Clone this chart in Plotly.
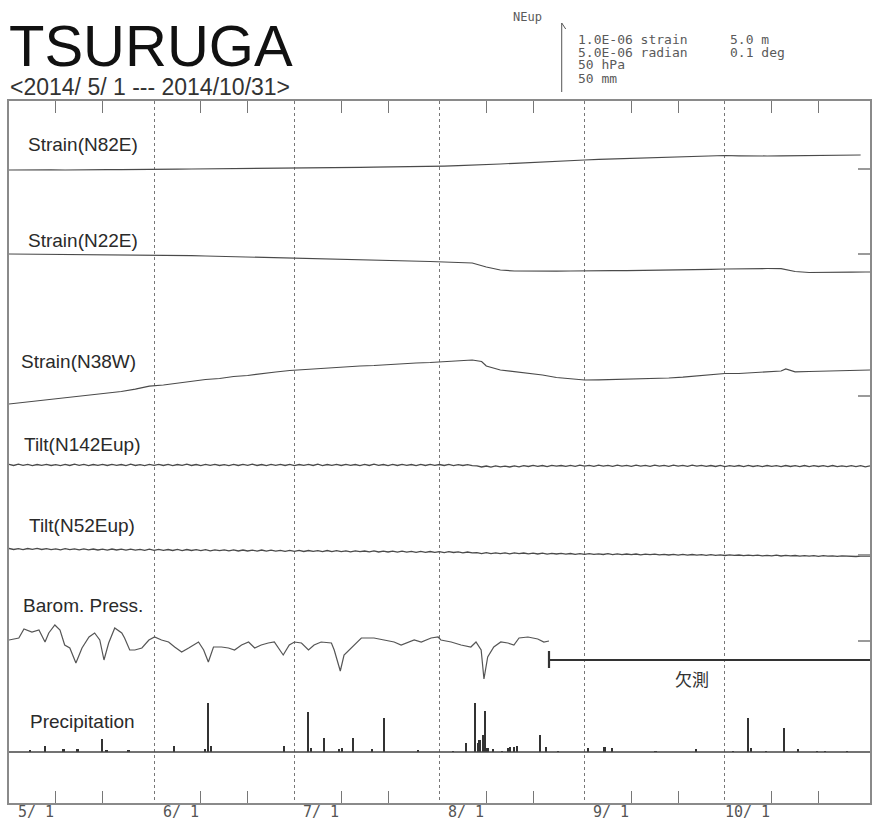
import numpy as np
import pandas as pd
import plotly.graph_objects as go

# ---------------- data ----------------
START = "2014-05-01"
END = "2014-11-01"
month_starts = ["2014-05-01", "2014-06-01", "2014-07-01", "2014-08-01", "2014-09-01", "2014-10-01"]
tick_labels = ["5/ 1", "6/ 1", "7/ 1", "8/ 1", "9/ 1", "10/ 1"]
minor_ticks = ["2014-05-11", "2014-05-21", "2014-06-11", "2014-06-21", "2014-07-11", "2014-07-21",
               "2014-08-11", "2014-08-21", "2014-09-11", "2014-09-21", "2014-10-11", "2014-10-21"]

# relative values (scale-bar units: 70 = one legend unit), day offsets from START
n82e_days = list(range(0, 181, 3)) + [182]
n82e_vals = [0.0, 0.2, -0.1, 0.1, 0.0, 0.3, 0.2, 0.4, 0.3, 0.6,
             0.8, 0.7, 0.9, 1.0, 1.1, 1.0, 1.3, 1.4, 1.5, 1.7,
             1.9, 2.0, 2.2, 2.4, 2.6, 2.7, 2.9, 3.0, 3.1, 3.3,
             3.6, 3.9, 4.3, 4.7, 5.3, 6.0, 6.7, 7.5, 8.2, 8.9,
             9.5, 10.0, 10.6, 11.1, 11.6, 12.0, 12.5, 13.0, 13.4, 13.8,
             14.2, 14.5, 14.2, 13.8, 14.0, 14.2, 14.3, 14.2, 14.5, 14.8,
             14.4, 15.0]

n22e_days = list(range(0, 184, 3)) + [184]
n22e_vals = [0.0, -0.1, 0.0, -0.2, -0.3, -0.3, -0.4, -0.6, -0.7, -0.8,
             -1.0, -1.2, -1.4, -1.6, -2.0, -2.3, -2.6, -3.0, -3.3, -3.6,
             -3.9, -4.1, -4.4, -4.8, -5.0, -5.3, -5.7, -6.2, -6.6, -7.0,
             -7.5, -8.0, -8.4, -9.0, -13.0, -16.0, -17.0, -17.2, -17.3, -17.2,
             -17.0, -17.1, -16.9, -16.7, -16.6, -16.5, -16.2, -16.0, -15.8, -15.5,
             -15.3, -15.0, -14.6, -14.4, -14.5, -14.6, -17.5, -18.5, -18.6, -18.4,
             -18.2, -18.0, -18.0]

n38w_days = [0, 3, 6, 9, 12, 15, 18, 21, 24, 27, 30, 33, 36, 39, 42, 45, 48, 51, 54, 57,
             60, 63, 66, 69, 72, 75, 78, 81, 84, 87, 90, 93, 96, 99, 101, 102, 105, 108, 111, 114,
             117, 120, 123, 126, 129, 132, 135, 138, 141, 144, 147, 150, 153, 156, 159, 162, 165, 166, 168, 171,
             174, 177, 180, 184]
n38w_vals = [0.0, 1.5, 3.0, 4.5, 6.2, 7.5, 9.5, 11.0, 12.5, 14.8, 17.8, 19.0, 21.0, 22.5, 24.5, 25.5, 27.5, 28.5, 30.5, 32.0,
             33.5, 34.5, 35.5, 36.0, 37.5, 38.0, 38.5, 39.5, 40.0, 41.0, 41.5, 42.5, 43.0, 44.0, 42.5, 38.0, 34.0, 32.5, 31.0, 29.0,
             26.5, 25.0, 24.0, 24.2, 24.5, 24.8, 25.0, 25.3, 26.0, 26.8, 27.8, 29.0, 30.5, 30.5, 31.5, 32.0, 33.0, 35.0, 32.2, 32.5,
             33.0, 33.5, 34.0, 34.0]

# daily tilt values (days 0..184)
n142e_vals = [0.6, -0.5, 0.8, -0.4, 0.7, -0.6, 0.5, -0.3, 0.6, -0.5,
              0.4, -0.6, 0.7, -0.5, 0.8, -0.4, 0.6, -0.7, 0.5, -0.4,
              0.7, -0.5, 0.6, -0.3, 0.5, -0.6, 0.8, -0.5, 0.4, -0.6,
              0.6, -0.4, 0.7, -0.5, 0.6, -0.6, 0.5, -0.4, 0.8, -0.5,
              0.5, -0.6, 0.7, -0.4, 0.6, -0.5, 0.4, -0.6, 0.7, -0.5,
              0.6, -0.4, 0.8, -0.5, 0.5, -0.6, 0.7, -0.4, 0.6, -0.5,
              0.7, -0.6, 0.5, -0.4, 0.6, -0.5, 0.8, -0.6, 0.5, -0.4,
              0.6, -0.5, 0.7, -0.4, 0.5, -0.6, 0.6, -0.5, 0.8, -0.4,
              0.5, -0.6, 0.7, -0.5, 0.6, -0.4, 0.5, -0.6, 0.7, -0.5,
              0.6, -0.4, 0.5, -0.5, 0.7, -0.6, 0.4, -0.5, 0.3, -0.7,
              -0.9, -2.0, -1.0, -2.2, -0.8, -1.9, -1.1, -2.0, -0.9, -1.8,
              -0.6, -1.5, -0.4, -1.4, -0.5, -1.6, -0.3, -1.2, -0.5, -1.4,
              -0.4, -1.3, -0.2, -1.2, -0.3, -1.4, -0.1, -1.1, -0.3, -1.3,
              -0.2, -1.2, -0.3, -1.4, -0.1, -1.1, -0.4, -1.3, -0.2, -1.2,
              -0.3, -1.4, -0.2, -1.2, -0.4, -1.3, -0.1, -1.2, -0.3, -1.4,
              -0.5, -1.5, -0.4, -1.6, -0.6, -1.4, -0.5, -1.7, -0.4, -1.5,
              -0.6, -1.6, -0.5, -1.4, -0.7, -1.6, -0.5, -1.5, -0.6, -1.7,
              -0.5, -1.6, -0.7, -1.5, -0.6, -1.7, -0.5, -1.6, -0.8, -1.7,
              -0.7, -1.6, -0.6, -1.8, -0.9]
n52e_vals = [0.5, -0.5, 0.4, -0.6, 0.5, -0.4, 0.6, -0.5, 0.3, -0.6,
             0.2, -0.8, 0.3, -0.7, 0.1, -0.9, 0.2, -0.8, 0.0, -1.0,
             -0.1, -1.1, 0.0, -1.0, -0.2, -1.2, -0.1, -1.1, -0.3, -1.3,
             -0.2, -1.4, -0.3, -1.3, -0.5, -1.5, -0.4, -1.6, -0.5, -1.5,
             -0.7, -1.7, -0.6, -1.8, -0.8, -1.7, -0.9, -1.9, -0.8, -2.0,
             -1.0, -2.0, -1.1, -2.1, -1.0, -2.2, -1.2, -2.1, -1.3, -2.3,
             -1.4, -2.4, -1.3, -2.5, -1.5, -2.4, -1.6, -2.6, -1.5, -2.7,
             -1.7, -2.6, -1.8, -2.8, -1.9, -2.7, -2.0, -2.9, -1.9, -3.0,
             -2.1, -3.0, -2.2, -3.2, -2.1, -3.1, -2.4, -3.3, -2.3, -3.4,
             -2.5, -3.4, -2.6, -3.6, -2.7, -3.5, -2.9, -3.8, -3.0, -3.9,
             -3.6, -4.6, -3.7, -4.7, -3.8, -4.6, -3.9, -4.8, -3.8, -4.7,
             -4.0, -4.9, -4.1, -5.0, -4.2, -5.1, -4.3, -5.0, -4.4, -5.2,
             -4.5, -5.3, -4.6, -5.4, -4.7, -5.3, -4.8, -5.5, -4.7, -5.6,
             -4.9, -5.6, -5.0, -5.7, -5.0, -5.8, -5.1, -5.7, -5.2, -5.9,
             -5.3, -6.0, -5.4, -6.1, -5.3, -6.2, -5.5, -6.1, -5.6, -6.3,
             -5.7, -6.4, -5.8, -6.5, -5.9, -6.4, -6.0, -6.6, -6.1, -6.7,
             -6.2, -6.8, -6.3, -6.9, -6.2, -7.0, -6.4, -6.9, -6.5, -7.1,
             -6.6, -7.2, -6.7, -7.3, -6.6, -7.2, -6.8, -7.4, -6.9, -7.3,
             -7.0, -7.5, -7.1, -7.4, -7.2]

baro_days = [0.0, 2.1, 3.2, 4.9, 6.4, 7.7, 8.5, 9.8, 10.9, 11.9,
             13.0, 14.3, 15.6, 17.1, 18.3, 19.4, 20.3, 21.3, 22.6, 24.1,
             24.7, 25.8, 26.9, 28.4, 29.9, 31.1, 32.6, 34.1, 35.4, 36.9,
             38.4, 40.5, 41.6, 42.6, 43.7, 45.4, 46.9, 48.2, 49.7, 51.2,
             52.5, 53.9, 55.4, 56.7, 58.6, 59.9, 61.0, 62.5, 64.0, 65.2,
             66.7, 68.9, 69.5, 70.8, 71.6, 73.1, 75.3, 78.0, 80.2, 82.3,
             83.8, 85.3, 86.6, 88.1, 90.2, 91.7, 92.3, 94.5, 96.6, 98.7,
             99.8, 100.9, 101.5, 102.3, 103.6, 105.1, 106.6, 107.9, 109.0, 110.9,
             113.0, 114.3, 115.4]
baro_vals = [0, 2, 11, 8, 10, -2, 7, 15, 10, -5,
             -8, -23, -8, 3, 7, 0, -20, -3, 12, 7,
             2, -10, -10, -8, 0, 3, 0, -2, -7, -12,
             -8, -2, -10, -22, -7, -7, -8, -10, -5, -2,
             -8, -5, -3, -2, -15, -5, -2, -3, -10, -5,
             -2, -3, -10, -31, -15, -8, 2, 2, 0, -2,
             -5, -2, 0, -2, 2, 3, 0, -2, -5, -7,
             -2, -10, -39, -17, -7, -2, -3, -5, 2, 3,
             1, -2, -1]

rain_days = [4.5, 7.7, 11.7, 14.7, 20.0, 20.9, 25.6, 35.4, 42.0, 42.6,
             43.3, 58.8, 64.0, 64.6, 67.4, 70.6, 71.2, 73.6, 77.6, 80.2,
             87.4, 94.9, 97.7, 99.6, 100.2, 100.6, 101.3, 101.7, 102.3, 103.4,
             105.5, 106.6, 107.2, 107.9, 108.7, 113.6, 114.9, 117.3, 123.7, 127.3,
             129.0, 138.2, 146.9, 154.8, 158.0, 158.6, 161.8, 165.7, 168.7, 172.7,
             174.4, 179.1]
rain_vals = [2, 6, 3, 3, 13, 2, 2, 6, 3, 49,
             6, 6, 40, 4, 14, 3, 4, 14, 3, 34,
             2, 1, 9, 49, 9, 12, 17, 41, 4, 3,
             1, 4, 5, 5, 6, 17, 5, 1, 4, 5,
             4, 1, 3, 1, 34, 4, 1, 24, 3, 1,
             1, 1]

panel_names = ["Strain(N82E)", "Strain(N22E)", "Strain(N38W)", "Tilt(N142Eup)",
               "Tilt(N52Eup)", "Barom. Press.", "Precipitation"]
legend_lines = ["1.0E-06 strain", "5.0E-06 radian", "50 hPa", "50 mm"]
legend_right = ["5.0 m", "0.1 deg"]
missing_text = "欠測"

# ---------------- layout helpers ----------------
W, H = 878, 824
L, R, T, B = 7, 870, 101, 803
PW, PH = R - L, B - T


def px(x):
    return (x - L) / PW


def py(y):
    return (B - y) / PH


def lvl(y):  # image row -> axis units
    return B - y


t0 = pd.Timestamp(START)


def to_dates(days):
    return t0 + pd.to_timedelta(np.asarray(days, dtype=float), unit="D")


daily = pd.date_range(START, periods=len(n142e_vals), freq="D")

base = {"n82e": lvl(170), "n22e": lvl(254), "n38w": lvl(404), "n142e": lvl(465),
        "n52e": lvl(549), "baro": lvl(640), "rain": lvl(752)}
ref_marks = [lvl(169), lvl(254), lvl(396), lvl(555), lvl(641)]

LINE = "#4a4a4a"
fig = go.Figure()


def add_line(x, vals, b, color=LINE, width=1.2):
    fig.add_trace(go.Scatter(x=x, y=b + np.asarray(vals, dtype=float), mode="lines",
                             line=dict(color=color, width=width), hoverinfo="skip"))


add_line(to_dates(n82e_days), n82e_vals, base["n82e"])
add_line(to_dates(n22e_days), n22e_vals, base["n22e"])
add_line(to_dates(n38w_days), n38w_vals, base["n38w"])
add_line(daily, n142e_vals, base["n142e"], width=1.3)
add_line(daily, n52e_vals, base["n52e"], width=1.3)
add_line(to_dates(baro_days), baro_vals, base["baro"], color="#555555", width=1.2)

# precipitation baseline + bars
fig.add_trace(go.Scatter(x=[START, END], y=[base["rain"], base["rain"]], mode="lines",
                         line=dict(color="#444444", width=1.6), hoverinfo="skip"))
fig.add_trace(go.Bar(x=to_dates(rain_days), y=rain_vals, base=base["rain"],
                     width=0.35 * 86400000, marker=dict(color="#333333", line=dict(width=0)),
                     hoverinfo="skip"))

# missing-data marker for barometer
miss_start = to_dates([baro_days[-1]])[0]
fig.add_trace(go.Scatter(x=[miss_start, END], y=[base["baro"] - 20, base["baro"] - 20], mode="lines",
                         line=dict(color="#333333", width=1.8), hoverinfo="skip"))
fig.add_trace(go.Scatter(x=[miss_start, miss_start], y=[base["baro"] - 11, base["baro"] - 28], mode="lines",
                         line=dict(color="#333333", width=2.2), hoverinfo="skip"))

# ---------------- axes ----------------
fig.update_xaxes(type="date", range=[START, END],
                 tickvals=month_starts[1:], ticks="", showticklabels=False,
                 showgrid=True, gridcolor="#777777", griddash="3px,3px", gridwidth=1,
                 minor=dict(tickvals=minor_ticks, ticks="inside", ticklen=12, tickcolor="#777777",
                            tickwidth=1, showgrid=False),
                 showline=True, linecolor="#8a8a8a", linewidth=2, mirror="ticks", zeroline=False)
fig.update_yaxes(range=[0, PH], tickvals=ref_marks, ticks="inside", ticklen=12, tickcolor="#9a9a9a",
                 tickwidth=1.5, side="right", showticklabels=False, showgrid=False, zeroline=False,
                 showline=True, linecolor="#8a8a8a", linewidth=2, mirror=True)

ann = []
# month tick labels
for m, lab in zip(month_starts, tick_labels):
    ann.append(dict(x=pd.Timestamp(m) + pd.Timedelta(days=10), y=py(812), xref="x", yref="paper",
                    text=lab, showarrow=False, xanchor="right", yanchor="middle",
                    font=dict(family="DejaVu Sans Mono", size=15, color="#555555")))

# panel labels
label_pos = [(24, 145), (24, 240), (17, 361), (20, 444), (25, 525), (19, 605), (26, 721)]
for name, (lx, ly) in zip(panel_names, label_pos):
    ann.append(dict(x=px(lx), y=py(ly), xref="paper", yref="paper", text=name, showarrow=False,
                    xanchor="left", yanchor="middle",
                    font=dict(family="Liberation Sans", size=19, color="#2a2a2a")))

# title and period
ann.append(dict(x=px(5), y=py(46), xref="paper", yref="paper", text="TSURUGA", showarrow=False,
                xanchor="left", yanchor="middle", font=dict(family="Liberation Sans", size=58, color="#111111")))
ann.append(dict(x=px(6), y=py(87), xref="paper", yref="paper", text="&lt;2014/ 5/ 1 --- 2014/10/31&gt;",
                showarrow=False, xanchor="left", yanchor="middle",
                font=dict(family="Liberation Sans", size=23, color="#333333")))

# scale legend
mono = dict(family="DejaVu Sans Mono", size=13, color="#5a5a5a")
ann.append(dict(x=px(510), y=py(17), xref="paper", yref="paper", text="NEup", showarrow=False,
                xanchor="left", yanchor="middle", font=dict(family="DejaVu Sans Mono", size=12, color="#5a5a5a")))
for i, t in enumerate(legend_lines):
    ann.append(dict(x=px(575), y=py(39 + 13 * i), xref="paper", yref="paper", text=t, showarrow=False,
                    xanchor="left", yanchor="middle", font=mono))
for i, t in enumerate(legend_right):
    ann.append(dict(x=px(728), y=py(39 + 13 * i), xref="paper", yref="paper", text=t, showarrow=False,
                    xanchor="left", yanchor="middle", font=mono))

# missing label
ann.append(dict(x=px(692), y=py(678), xref="paper", yref="paper", text=missing_text, showarrow=False,
                xanchor="center", yanchor="middle",
                font=dict(family="Noto Sans CJK JP", size=17, color="#333333")))

shapes = [
    dict(type="line", xref="paper", yref="paper", x0=px(561), x1=px(561), y0=py(92), y1=py(23),
         line=dict(color="#555555", width=1)),
    dict(type="line", xref="paper", yref="paper", x0=px(561), x1=px(565), y0=py(23), y1=py(29),
         line=dict(color="#555555", width=1)),
]

fig.update_layout(width=W, height=H, margin=dict(l=L, r=W - R, t=T, b=H - B, pad=0),
                  paper_bgcolor="white", plot_bgcolor="white", showlegend=False,
                  annotations=ann, shapes=shapes, bargap=0)

fig.write_html("out.html", config={"displayModeBar": False},
               post_script="document.body.style.margin='0px';document.body.style.overflow='hidden';")
